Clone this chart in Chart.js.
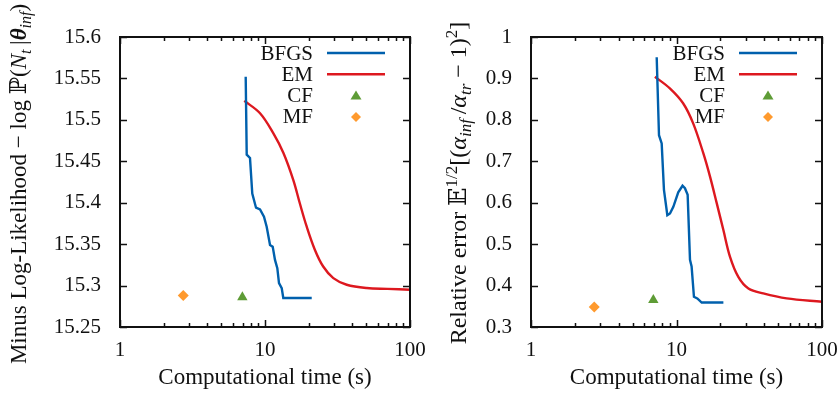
<!DOCTYPE html>
<html>
<head>
<meta charset="utf-8">
<script src="https://cdn.jsdelivr.net/npm/chart.js@4.4.1/dist/chart.umd.min.js"></script>
<style>
  body { margin: 0; background: #fff; }
  #wrap { position: relative; width: 840px; height: 396px; overflow: hidden; }
  canvas { position: absolute; top: 0; }
  #leftChart { left: 0; }
  #rightChart { left: 420px; }
</style>
</head>
<body>
<div id="wrap">
  <canvas id="leftChart" width="440" height="396"></canvas>
  <canvas id="rightChart" width="420" height="396"></canvas>
</div>
<script>
// ---- data ----
const seriesNames = ['BFGS', 'EM', 'CF', 'MF'];
const xTicks = [1, 2, 3, 4, 5, 6, 7, 8, 9, 10, 20, 30, 40, 50, 60, 70, 80, 90, 100];

// left panel: minus log-likelihood
const leftBfgsTime = [7.36, 7.48, 7.88, 8.17, 8.67, 9.24, 9.84, 10.27, 10.83, 11.30, 11.72, 12.16, 12.49, 13.04, 13.37, 21.0];
const leftBfgsValue = [15.552, 15.458, 15.454, 15.411, 15.394, 15.392, 15.383, 15.371, 15.349, 15.347, 15.331, 15.321, 15.303, 15.297, 15.285, 15.285];
const leftEmTime = [7.2, 9.24, 11.4, 13.4, 15.7, 17.4, 19.4, 22.1, 25.2, 29.6, 36.6, 50.3, 70, 100];
const leftEmValue = [15.523, 15.508, 15.484, 15.46, 15.427, 15.399, 15.371, 15.343, 15.323, 15.309, 15.301, 15.297, 15.296, 15.295];
const leftCf = [6.98, 15.286];
const leftMf = [2.73, 15.288];
const leftYTicks = [15.25, 15.3, 15.35, 15.4, 15.45, 15.5, 15.55, 15.6];

// right panel: relative error
const rightBfgsTime = [7.31, 7.58, 7.91, 8.2, 8.65, 9.02, 9.51, 10.28, 11.0, 11.43, 11.93, 12.38, 12.7, 13.18, 13.9, 14.9, 21.0];
const rightBfgsValue = [0.951, 0.763, 0.743, 0.631, 0.570, 0.574, 0.59, 0.625, 0.641, 0.635, 0.619, 0.462, 0.446, 0.373, 0.369, 0.359, 0.359];
const rightEmTime = [7.11, 9.0, 11.1, 13.0, 15.3, 17.0, 18.9, 21.0, 23.3, 26.6, 31.2, 39.5, 57.2, 100];
const rightEmValue = [0.904, 0.876, 0.84, 0.792, 0.719, 0.663, 0.599, 0.534, 0.470, 0.421, 0.393, 0.381, 0.369, 0.361];
const rightCf = [6.93, 0.365];
const rightMf = [2.72, 0.348];
const rightYTicks = [0.3, 0.4, 0.5, 0.6, 0.7, 0.8, 0.9, 1];

const colors = { BFGS: '#0060ad', EM: '#dd181f', CF: '#5e9c36', MF: '#ff9a2e' };
const serif = '"Liberation Serif", "DejaVu Serif", serif';
const ink = '#111';

// y axis titles with sub/superscripts, drawn as rich text
const leftYTitle = [
  { t: 'Minus Log-Likelihood \u2212 log ' }, { t: '\u2119', math: true }, { t: '(' },
  { t: 'N', it: true }, { t: 't', it: true, sub: true }, { t: '\u2009|' },
  { t: '\u03B8', it: true, bold: true }, { t: 'inf', it: true, sub: true }, { t: ')' }
];
const rightYTitle = [
  { t: 'Relative error ' }, { t: '\uD835\uDD3C', math: true }, { t: '1/2', sup: true }, { t: '[(' },
  { t: '\u03B1', it: true }, { t: 'inf', it: true, sub: true }, { t: '\u2009/' },
  { t: '\u03B1', it: true }, { t: 'tr', it: true, sub: true }, { t: ' \u2212 1)' },
  { t: '2', sup: true }, { t: ']' }
];

function toPoints(xs, ys) {
  return xs.map((x, i) => ({ x: x, y: ys[i] }));
}

// Plot frame with gnuplot-like inward ticks on all four sides
const framePlugin = {
  id: 'frame',
  afterDraw(chart) {
    const ctx = chart.ctx;
    const a = chart.chartArea;
    const xs = chart.scales.x, ys = chart.scales.y;
    ctx.save();
    ctx.strokeStyle = ink;
    ctx.lineWidth = 1.5;
    ctx.beginPath();
    ys.ticks.forEach(t => {
      const y = Math.round(ys.getPixelForValue(t.value)) + 0.5;
      ctx.moveTo(a.left, y); ctx.lineTo(a.left + 7, y);
      ctx.moveTo(a.right, y); ctx.lineTo(a.right - 7, y);
    });
    xs.ticks.forEach(t => {
      const lg = Math.log10(t.value);
      const len = Math.abs(lg - Math.round(lg)) < 1e-9 ? 7 : 4;
      const x = Math.round(xs.getPixelForValue(t.value)) + 0.5;
      ctx.moveTo(x, a.bottom); ctx.lineTo(x, a.bottom - len);
      ctx.moveTo(x, a.top); ctx.lineTo(x, a.top + len);
    });
    ctx.stroke();
    ctx.lineWidth = 2;
    ctx.strokeRect(a.left, a.top, a.right - a.left, a.bottom - a.top);
    ctx.restore();
  }
};

// Legend inside the plot, text right-aligned with sample on the right
const keyPlugin = {
  id: 'key',
  afterDatasetsDraw(chart) {
    const ctx = chart.ctx;
    const a = chart.chartArea;
    ctx.save();
    ctx.font = '21px ' + serif;
    ctx.textAlign = 'right';
    ctx.textBaseline = 'middle';
    chart.data.datasets.forEach((ds, i) => {
      const y = a.top + 16 + i * 21.3;
      ctx.fillStyle = ink;
      ctx.fillText(ds.label, a.right - 97, y + 1);
      if (ds.showLine !== false) {
        ctx.strokeStyle = ds.borderColor;
        ctx.lineWidth = 2.4;
        ctx.beginPath();
        ctx.moveTo(a.right - 83, y); ctx.lineTo(a.right - 25, y);
        ctx.stroke();
      } else {
        const cx = a.right - 54;
        ctx.fillStyle = ds.backgroundColor;
        ctx.beginPath();
        if (ds.pointStyle === 'triangle') {
          ctx.moveTo(cx, y - 5); ctx.lineTo(cx + 5.5, y + 4); ctx.lineTo(cx - 5.5, y + 4);
        } else {
          ctx.moveTo(cx, y - 5); ctx.lineTo(cx + 5, y); ctx.lineTo(cx, y + 5); ctx.lineTo(cx - 5, y);
        }
        ctx.closePath();
        ctx.fill();
      }
    });
    ctx.restore();
  }
};

// Rotated y title made of styled segments
const yTitlePlugin = {
  id: 'yTitle',
  afterDraw(chart, args, opts) {
    const ctx = chart.ctx;
    const size = opts.size;
    const fontFor = s => {
      const sz = (s.sub || s.sup) ? Math.round(size * 0.7) : size;
      const fam = s.math ? '"DejaVu Serif", "DejaVu Sans", serif' : serif;
      return (s.it ? 'italic ' : '') + (s.bold ? 'bold ' : '') + sz + 'px ' + fam;
    };
    ctx.save();
    let total = 0;
    opts.segments.forEach(s => { ctx.font = fontFor(s); total += ctx.measureText(s.t).width; });
    ctx.translate(opts.x, opts.y);
    ctx.rotate(-Math.PI / 2);
    ctx.fillStyle = ink;
    ctx.textBaseline = 'alphabetic';
    ctx.textAlign = 'left';
    let pos = -total / 2;
    opts.segments.forEach(s => {
      ctx.font = fontFor(s);
      const dy = s.sub ? 5 : (s.sup ? -9 : 0);
      ctx.fillText(s.t, pos, 8 + dy);
      pos += ctx.measureText(s.t).width;
    });
    ctx.restore();
  }
};

function makeChart(id, p) {
  const datasets = [
    { label: seriesNames[0], data: toPoints(p.bfgsT, p.bfgsV), borderColor: colors.BFGS, backgroundColor: colors.BFGS, borderWidth: 2.4, pointRadius: 0, tension: 0 },
    { label: seriesNames[1], data: toPoints(p.emT, p.emV), borderColor: colors.EM, backgroundColor: colors.EM, borderWidth: 2.4, pointRadius: 0, tension: 0.35 },
    { label: seriesNames[2], data: [{ x: p.cf[0], y: p.cf[1] }], showLine: false, pointStyle: 'triangle', pointRadius: 6, borderWidth: 0, borderColor: colors.CF, backgroundColor: colors.CF },
    { label: seriesNames[3], data: [{ x: p.mf[0], y: p.mf[1] }], showLine: false, pointStyle: 'rectRot', pointRadius: 5.5, borderWidth: 0, borderColor: colors.MF, backgroundColor: colors.MF }
  ];
  return new Chart(document.getElementById(id), {
    type: 'line',
    data: { datasets: datasets },
    plugins: [framePlugin, keyPlugin, yTitlePlugin],
    options: {
      responsive: false,
      animation: false,
      devicePixelRatio: 1,
      layout: { padding: { left: 0, top: 37, right: p.padRight, bottom: 0 } },
      plugins: {
        legend: { display: false },
        tooltip: { enabled: false },
        yTitle: { segments: p.title, x: p.titleX, y: p.titleY, size: p.titleSize }
      },
      scales: {
        x: {
          type: 'logarithmic',
          min: 1, max: 100,
          grid: { display: false },
          border: { display: false },
          afterBuildTicks: s => { s.ticks = xTicks.map(v => ({ value: v })); },
          afterFit: s => { s.height = 69; s.paddingLeft = 0; s.paddingRight = 0; },
          ticks: {
            autoSkip: false, maxRotation: 0, padding: 3,
            color: ink, font: { family: serif, size: 21 },
            callback: v => ([1, 10, 100].includes(v) ? String(v) : '')
          },
          title: { display: true, text: 'Computational time (s)', color: ink, font: { family: serif, size: 23 }, padding: { top: 0, bottom: 4 } }
        },
        y: {
          min: p.yTicks[0], max: p.yTicks[p.yTicks.length - 1],
          grid: { display: false },
          border: { display: false },
          afterBuildTicks: s => { s.ticks = p.yTicks.map(v => ({ value: v })); },
          afterFit: s => { s.width = p.axisWidth; s.paddingTop = 0; s.paddingBottom = 0; },
          ticks: {
            padding: 11, color: ink, font: { family: serif, size: 21 },
            callback: v => String(Number(v.toFixed(2)))
          }
        }
      }
    }
  });
}

makeChart('leftChart', {
  bfgsT: leftBfgsTime, bfgsV: leftBfgsValue, emT: leftEmTime, emV: leftEmValue,
  cf: leftCf, mf: leftMf, yTicks: leftYTicks, title: leftYTitle,
  titleX: 18, titleY: 184, titleSize: 23, axisWidth: 120, padRight: 30
});
makeChart('rightChart', {
  bfgsT: rightBfgsTime, bfgsV: rightBfgsValue, emT: rightEmTime, emV: rightEmValue,
  cf: rightCf, mf: rightMf, yTicks: rightYTicks, title: rightYTitle,
  titleX: 38, titleY: 183, titleSize: 24, axisWidth: 111, padRight: 18
});
</script>
</body>
</html>
